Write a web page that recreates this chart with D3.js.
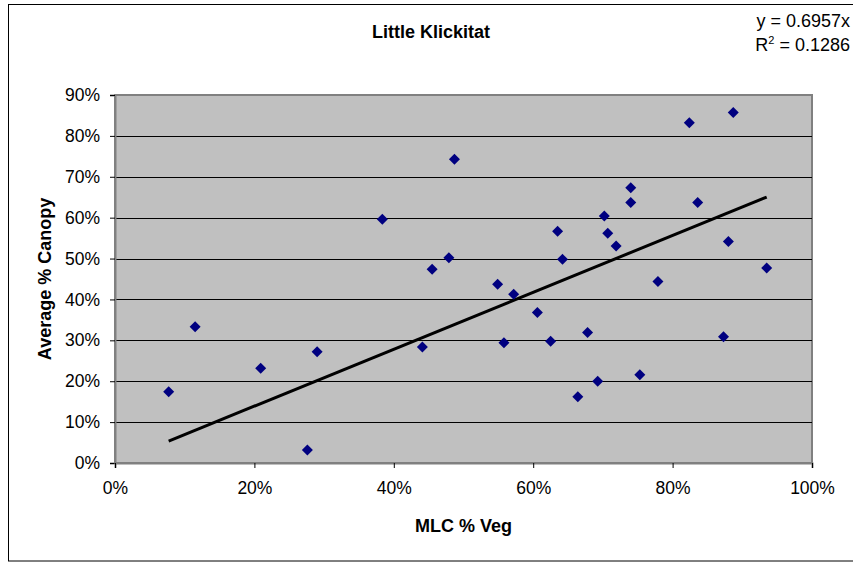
<!DOCTYPE html>
<html><head><meta charset="utf-8">
<script src="https://cdn.jsdelivr.net/npm/d3@7"></script>
<style>body{margin:0;background:#fff}svg{display:block}text{font-family:Arial,"Liberation Sans",sans-serif}</style>
</head><body><svg id="c" width="853" height="563"></svg>
<script>
const title = "Little Klickitat";
const xLabel = "MLC % Veg";
const yLabel = "Average % Canopy";
const slope = 0.6957;
const eqText = "y = 0.6957x";
const r2Text = "0.1286";
const xTicks = [0,0.2,0.4,0.6,0.8,1.0];
const yTicks = [0,0.1,0.2,0.3,0.4,0.5,0.6,0.7,0.8,0.9];
const xVals = [0.077,0.115,0.209,0.276,0.290,0.3835,0.441,0.455,0.479,0.487,0.549,0.558,0.572,0.606,0.625,0.635,0.642,0.664,0.678,0.6925,0.702,0.707,0.719,0.740,0.740,0.753,0.779,0.824,0.836,0.873,0.880,0.887,0.935];
const yVals = [0.174,0.333,0.232,0.032,0.272,0.596,0.284,0.474,0.502,0.743,0.437,0.294,0.413,0.368,0.298,0.567,0.498,0.162,0.319,0.200,0.604,0.562,0.531,0.673,0.637,0.216,0.444,0.832,0.637,0.309,0.542,0.857,0.477];

const svg = d3.select("#c");
const L=115,R=812,T=95,B=463;
const x = d3.scaleLinear().domain([0,1]).range([L,R]);
const y = d3.scaleLinear().domain([0,0.9]).range([B,T]);

svg.append("rect").attr("x",8.5).attr("y",4.5).attr("width",860).attr("height",556.5)
  .attr("fill","#fff").attr("stroke","#000").attr("stroke-width",1);

svg.append("rect").attr("x",L).attr("y",T).attr("width",R-L).attr("height",B-T)
  .attr("fill","#C0C0C0").attr("stroke","#808080").attr("stroke-width",2);

svg.append("g").selectAll("line").data(yTicks.filter(d=>d>0&&d<0.9)).join("line")
  .attr("x1",L).attr("x2",R).attr("y1",d=>Math.round(y(d))+0.5).attr("y2",d=>Math.round(y(d))+0.5)
  .attr("stroke","#000").attr("stroke-width",1);

const fmt = d=>Math.round(d*100)+"%";
const ya = svg.append("g").attr("transform",`translate(${L},0)`)
  .call(d3.axisLeft(y).tickValues(yTicks).tickFormat(fmt).tickSize(5).tickPadding(10));
ya.select(".domain").attr("stroke","#808080").attr("stroke-width",2);
ya.selectAll("line").attr("stroke","#000");
ya.selectAll("text").attr("font-size",17.5).attr("fill","#000");

const xa = svg.append("g").attr("transform",`translate(0,${B})`)
  .call(d3.axisBottom(x).tickValues(xTicks).tickFormat(fmt).tickSize(5).tickPadding(14));
xa.select(".domain").attr("stroke","#808080").attr("stroke-width",2);
xa.selectAll("line").attr("stroke","#000");
xa.selectAll("text").attr("font-size",17.5).attr("fill","#000");

// trend line
const x0 = d3.min(xVals), x1 = d3.max(xVals);
svg.append("line").attr("x1",x(x0)).attr("y1",y(slope*x0)).attr("x2",x(x1)).attr("y2",y(slope*x1))
  .attr("stroke","#000").attr("stroke-width",3);

// points
const pts = xVals.map((v,i)=>[v,yVals[i]]);
svg.append("g").selectAll("path").data(pts).join("path")
  .attr("transform",d=>`translate(${x(d[0])},${y(d[1])})`)
  .attr("d","M0,-5.5L5.5,0L0,5.5L-5.5,0Z").attr("fill","#000080");

svg.append("text").attr("x",431).attr("y",38).attr("text-anchor","middle")
  .attr("font-size",18).attr("font-weight","bold").text(title);

svg.append("text").attr("x",850).attr("y",27).attr("text-anchor","end").attr("font-size",18).text(eqText);
const r2 = svg.append("text").attr("x",850).attr("y",51).attr("text-anchor","end").attr("font-size",18);
r2.append("tspan").text("R");
r2.append("tspan").attr("font-size",11).attr("dy",-7).text("2");
r2.append("tspan").attr("dy",7).text(" = "+r2Text);

svg.append("text").attr("x",(L+R)/2).attr("y",532).attr("text-anchor","middle")
  .attr("font-size",18).attr("font-weight","bold").text(xLabel);

svg.append("text").attr("transform",`translate(51,${(T+B)/2}) rotate(-90)`).attr("text-anchor","middle")
  .attr("font-size",18).attr("font-weight","bold").text(yLabel);
</script></body></html>
